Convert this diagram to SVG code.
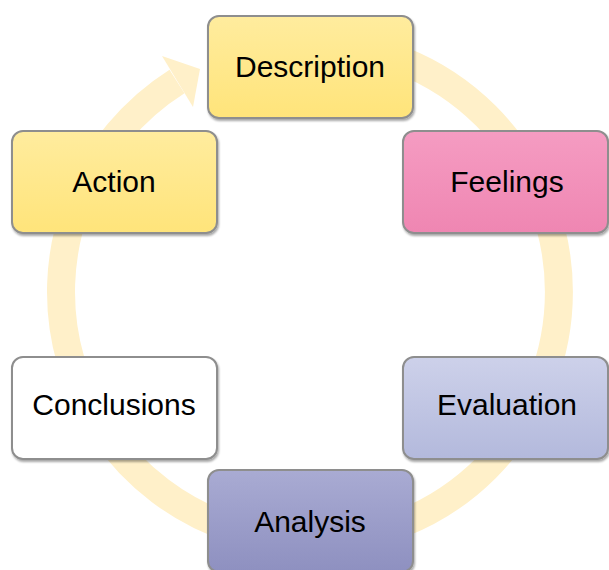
<svg xmlns="http://www.w3.org/2000/svg" width="609" height="570" viewBox="0 0 609 570">
<style>
.box{stroke:#8e8e8e;stroke-width:2;filter:url(#sh)}
.lbl{font-family:"Liberation Sans",Arial,sans-serif;font-size:30px;fill:#000;text-anchor:middle}
.ring{fill:none;stroke:#FFF0C9;stroke-width:28}
</style>
<defs>
<filter id="sh" x="-10%" y="-10%" width="120%" height="125%">
<feGaussianBlur in="SourceAlpha" stdDeviation="1.2"/>
<feOffset dx="1" dy="2" result="b"/>
<feComponentTransfer><feFuncA type="linear" slope="0.35"/></feComponentTransfer>
<feMerge><feMergeNode/><feMergeNode in="SourceGraphic"/></feMerge>
</filter>
<linearGradient id="gy" x1="0" y1="0" x2="0" y2="1"><stop offset="0" stop-color="#FFEC9E"/><stop offset="1" stop-color="#FFE47A"/></linearGradient>
<linearGradient id="gp" x1="0" y1="0" x2="0" y2="1"><stop offset="0" stop-color="#F59CC2"/><stop offset="1" stop-color="#EF86B2"/></linearGradient>
<linearGradient id="gl" x1="0" y1="0" x2="0" y2="1"><stop offset="0" stop-color="#CDD1EA"/><stop offset="1" stop-color="#B3B9DC"/></linearGradient>
<linearGradient id="ga" x1="0" y1="0" x2="0" y2="1"><stop offset="0" stop-color="#A9ABD3"/><stop offset="1" stop-color="#8E90C0"/></linearGradient>
</defs>
<rect width="609" height="570" fill="#fff"/>
<g id="connectors">
<path class="ring" d="M310,43 A249,249 0 0 1 310,541 A249,249 0 0 1 177,81.5"/>
<polygon points="162,56 193,107 200,69" fill="#FFF0C9"/>
</g>
<g id="description"><rect class="box" x="208" y="16" width="205" height="102" rx="11" fill="url(#gy)"/><text class="lbl" x="310" y="77">Description</text></g>
<g id="feelings"><rect class="box" x="403" y="131" width="205" height="102" rx="11" fill="url(#gp)" stroke="#9a7080"/><text class="lbl" x="507" y="192">Feelings</text></g>
<g id="evaluation"><rect class="box" x="403" y="357" width="205" height="102" rx="11" fill="url(#gl)"/><text class="lbl" x="507" y="415">Evaluation</text></g>
<g id="analysis"><rect class="box" x="208" y="470" width="205" height="102" rx="11" fill="url(#ga)"/><text class="lbl" x="310" y="532">Analysis</text></g>
<g id="conclusions"><rect class="box" x="12" y="357" width="205" height="102" rx="11" fill="#fff"/><text class="lbl" x="114" y="415">Conclusions</text></g>
<g id="action"><rect class="box" x="12" y="131" width="205" height="102" rx="11" fill="url(#gy)"/><text class="lbl" x="114" y="192">Action</text></g>
</svg>
